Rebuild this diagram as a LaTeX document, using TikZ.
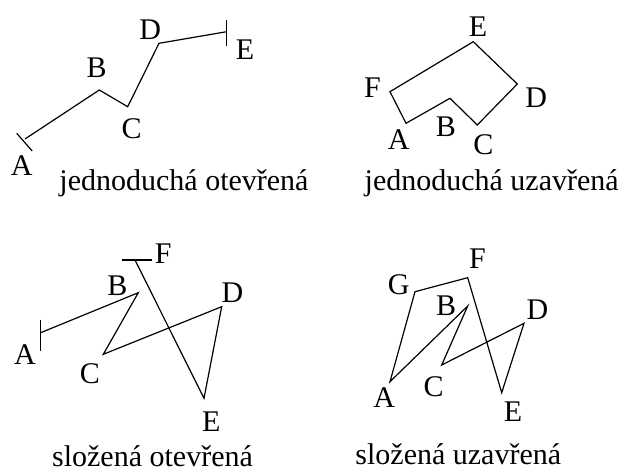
\documentclass[tikz,border=0pt]{standalone}
\usepackage{fontspec}
\setmainfont{Liberation Serif}
\begin{document}
\begin{tikzpicture}[x=1pt,y=-1pt,
  lbl/.style={inner sep=0pt,font=\fontsize{30}{31}\selectfont},
  captxt/.style={inner sep=0pt,anchor=base,font=\fontsize{30}{31}\selectfont},
  pline/.style={line width=1.2pt,line join=miter,black}]
\useasboundingbox (0,0) rectangle (625,473);
% ---------- top left: jednoduchá otevřená
\coordinate (a1) at (25,139);
\coordinate (b1) at (99.3,90);
\coordinate (c1) at (127.7,106.7);
\coordinate (d1) at (159,43.3);
\coordinate (e1) at (226.7,31.7);
\coordinate (a1t1) at (16.7,133.3);
\coordinate (a1t2) at (32.2,151);
\coordinate (e1t1) at (226.7,20);
\coordinate (e1t2) at (226.7,46);
\draw[pline] (a1) -- (b1) -- (c1) -- (d1) -- (e1);
\draw[pline] (a1t1) -- (a1t2);
\draw[pline] (e1t1) -- (e1t2);
\node[lbl] (la1) at (21.7,165.7) {A};
\node[lbl] (lb1) at (96.7,67.7) {B};
\node[lbl] (lc1) at (131.7,128.7) {C};
\node[lbl] (ld1) at (150.3,29.3) {D};
\node[lbl] (le1) at (245,49.7) {E};
\node[captxt] (cap1) at (184,190.7) {jednoduchá otevřená};
% ---------- top right: jednoduchá uzavřená
\coordinate (a2) at (406,123.3);
\coordinate (b2) at (450,98.3);
\coordinate (c2) at (477.3,125);
\coordinate (d2) at (517.3,84);
\coordinate (e2) at (473.3,41.7);
\coordinate (f2) at (390,91.7);
\draw[pline] (a2) -- (b2) -- (c2) -- (d2) -- (e2) -- (f2) -- cycle;
\node[lbl] (la2) at (398.8,140) {A};
\node[lbl] (lb2) at (445.8,126.7) {B};
\node[lbl] (lc2) at (483.3,145) {C};
\node[lbl] (ld2) at (536.3,97.3) {D};
\node[lbl] (le2) at (478,26.7) {E};
\node[lbl] (lf2) at (372.5,87.5) {F};
\node[captxt] (cap2) at (491.7,190.7) {jednoduchá uzavřená};
% ---------- bottom left: složená otevřená
\coordinate (a3) at (40.7,332.7);
\coordinate (b3) at (138.3,292.7);
\coordinate (c3) at (103.3,354.3);
\coordinate (d3) at (221.7,306.7);
\coordinate (e3) at (204,398.3);
\coordinate (f3) at (135,260);
\coordinate (a3t1) at (40.7,320);
\coordinate (a3t2) at (40.7,350.7);
\coordinate (f3t1) at (121.7,260);
\coordinate (f3t2) at (151.7,260);
\draw[pline] (a3) -- (b3) -- (c3) -- (d3) -- (e3) -- (f3);
\draw[pline] (a3t1) -- (a3t2);
\draw[pline] (f3t1) -- (f3t2);
\node[lbl] (la3) at (25,355) {A};
\node[lbl] (lb3) at (117.5,285.8) {B};
\node[lbl] (lc3) at (90,373.3) {C};
\node[lbl] (ld3) at (232.5,292.5) {D};
\node[lbl] (le3) at (211.3,421.7) {E};
\node[lbl] (lf3) at (163.3,253.3) {F};
\node[captxt] (cap3) at (152.5,466.7) {složená otevřená};
% ---------- bottom right: složená uzavřená
\coordinate (a4) at (390,381.7);
\coordinate (b4) at (467.7,306);
\coordinate (c4) at (441.7,365);
\coordinate (d4) at (524,323.3);
\coordinate (e4) at (501.7,392.7);
\coordinate (f4) at (467.7,277.7);
\coordinate (g4) at (415,291.7);
\draw[pline] (a4) -- (b4) -- (c4) -- (d4) -- (e4) -- (f4) -- (g4) -- cycle;
\node[lbl] (la4) at (384.2,397.5) {A};
\node[lbl] (lb4) at (446.2,305.8) {B};
\node[lbl] (lc4) at (433.7,386.7) {C};
\node[lbl] (ld4) at (537.5,309.3) {D};
\node[lbl] (le4) at (513,411.7) {E};
\node[lbl] (lf4) at (477.5,258.3) {F};
\node[lbl] (lg4) at (398.8,285) {G};
\node[captxt] (cap4) at (458.3,465) {složená uzavřená};
\end{tikzpicture}
\end{document}
